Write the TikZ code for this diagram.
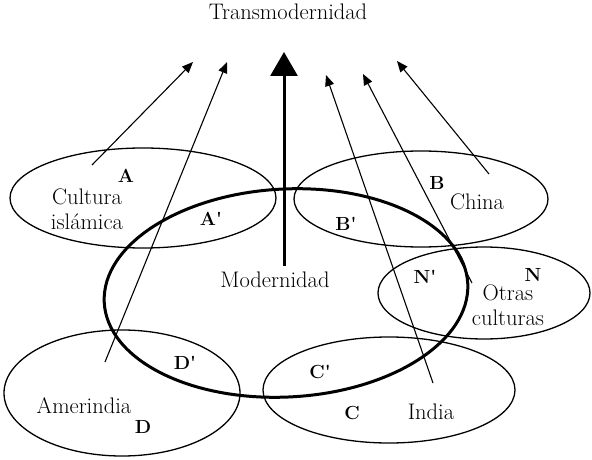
\documentclass[tikz,border=0pt]{standalone}
\usepackage{tikz}
\usetikzlibrary{arrows.meta}
\begin{document}
\begin{tikzpicture}[x=1pt,y=-1pt,font=\fontsize{22.5}{25}\selectfont]
\useasboundingbox (0,0) rectangle (592,460);
\tikzset{culture/.style={line width=1.3pt}}
\tikzset{modern/.style={line width=3pt}}
\tikzset{flow/.style={line width=1.1pt,-{Triangle[length=11pt,width=9pt]}}}
\tikzset{lettertag/.style={font=\fontsize{19}{20}\selectfont\bfseries,inner sep=0pt}}
\tikzset{word/.style={inner sep=0pt,align=center}}
% cultures
\foreach \n/\cx/\cy/\rx/\ry in {isl/143/198/133/50, chn/421/199/127/48, otr/484/293/106/46, ame/122/393/118/63, ind/389/390/126/53} {
  \coordinate (\n) at (\cx,\cy);
  \draw[culture] (\n) ellipse [x radius=\rx pt, y radius=\ry pt];
}
% modernidad
\coordinate (mod) at (286,293);
\draw[modern,rotate around={3:(mod)}] (mod) ellipse [x radius=182pt, y radius=104pt];
% arrows to transmodernidad
\foreach \n/\tx/\ty/\hx/\hy in {isl/92/165/193/62, ame/105/362/227/62, ind/433/383/326/75, otr/472/283/363/74, chn/489/174/397/61} {
  \coordinate (\n-from) at (\tx,\ty);
  \coordinate (\n-to) at (\hx,\hy);
  \draw[flow] (\n-from) -- (\n-to);
}
\coordinate (mod-from) at (284,266);
\coordinate (mod-to) at (284,52);
\draw[line width=3pt,-{Triangle[length=24pt,width=27pt]}] (mod-from) -- (mod-to);
% texts
\node[word] (trans) at (288,12) {Transmodernidad};
\node[word] (modtext) at (275,280) {Modernidad};
\node[word] (isltext) at (87,209) {Cultura\\isl\'amica};
\node[word] (chntext) at (477,202) {China};
\node[word] (otrtext) at (508,305) {Otras\\culturas};
\node[word] (ametext) at (84,406) {Amerindia};
\node[word] (indtext) at (431,412) {India};
% letters
\foreach \n/\lx/\ly/\txt in {a/126/176/A, a1/211/219/A\textquotesingle, b/437/183/B, b1/346/224/B\textquotesingle, n/533/275/N, n1/425/277/N\textquotesingle, d/143/427/D, d1/185/363/D\textquotesingle, c/352/413/C, c1/320/372/C\textquotesingle}
  \node[lettertag] (\n) at (\lx,\ly) {\txt};
\end{tikzpicture}
\end{document}
